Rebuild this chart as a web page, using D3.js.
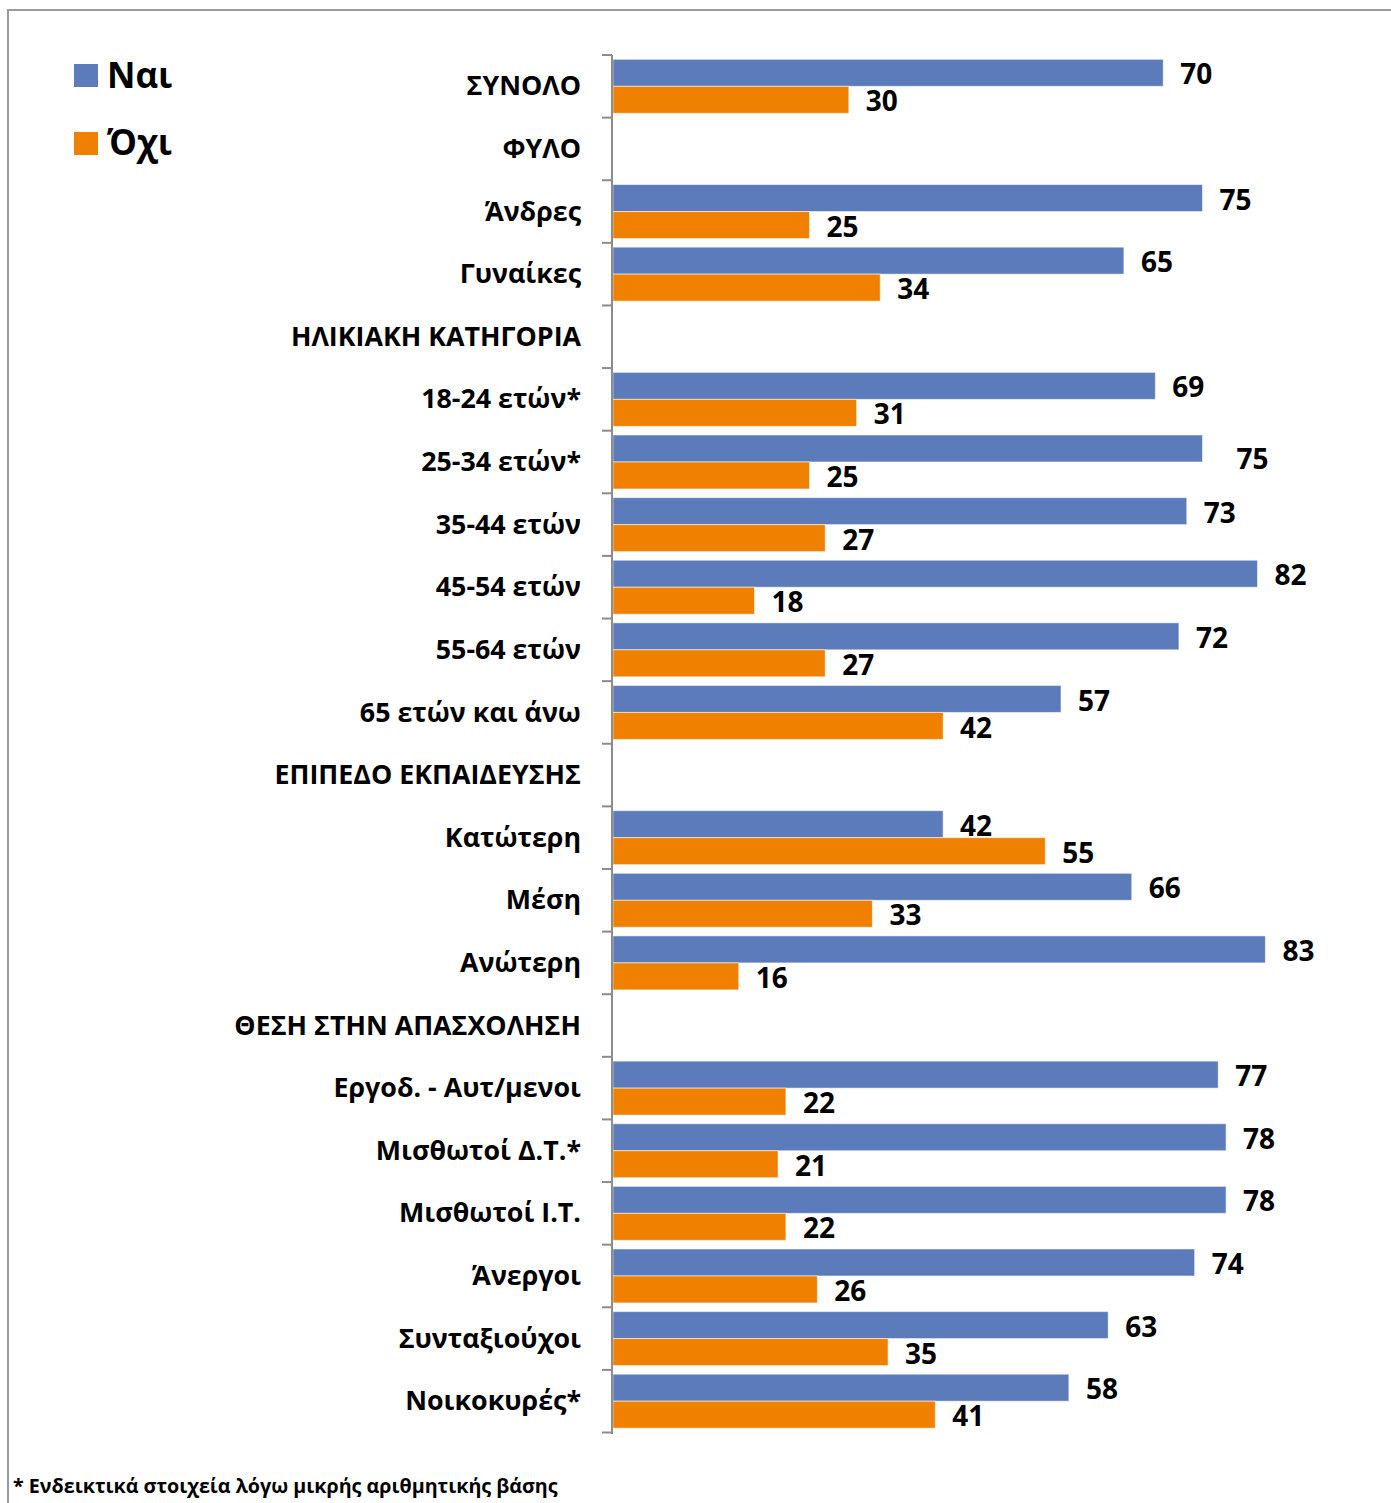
<!DOCTYPE html>
<html>
<head>
<meta charset="utf-8">
<script src="https://cdn.jsdelivr.net/npm/d3@7"></script>
<style>
  html, body { margin: 0; padding: 0; background: #fff; }
  svg { display: block; font-family: "Open Sans", "Noto Sans", sans-serif; }
</style>
</head>
<body>
<svg id="chart" width="1391" height="1503"></svg>
<script>
const categories = [
  "ΣΥΝΟΛΟ", "ΦΥΛΟ", "Άνδρες", "Γυναίκες", "ΗΛΙΚΙΑΚΗ ΚΑΤΗΓΟΡΙΑ",
  "18-24 ετών*", "25-34 ετών*", "35-44 ετών", "45-54 ετών", "55-64 ετών",
  "65 ετών και άνω", "ΕΠΙΠΕΔΟ ΕΚΠΑΙΔΕΥΣΗΣ", "Κατώτερη", "Μέση", "Ανώτερη",
  "ΘΕΣΗ ΣΤΗΝ ΑΠΑΣΧΟΛΗΣΗ", "Εργοδ. - Αυτ/μενοι", "Μισθωτοί Δ.Τ.*", "Μισθωτοί Ι.Τ.",
  "Άνεργοι", "Συνταξιούχοι", "Νοικοκυρές*"
];
const seriesNames = ["Ναι", "Όχι"];
const valuesNai = [70, null, 75, 65, null, 69, 75, 73, 82, 72, 57, null, 42, 66, 83, null, 77, 78, 78, 74, 63, 58];
const valuesOxi = [30, null, 25, 34, null, 31, 25, 27, 18, 27, 42, null, 55, 33, 16, null, 22, 21, 22, 26, 35, 41];
const seriesColors = ["#5B7BBA", "#F08000"];
const footnote = "* Ενδεικτικά στοιχεία λόγω μικρής αριθμητικής βάσης";

const svg = d3.select("#chart");

// outer frame
svg.append("path")
  .attr("d", "M8,1503 V10 H1391")
  .attr("fill", "none").attr("stroke", "#9a9a9a").attr("stroke-width", 2);

const x = d3.scaleLinear().domain([0, 100]).range([613, 1399]);
const y = d3.scaleBand().domain(categories).range([55, 1432.5]).paddingInner(0).paddingOuter(0);
const ys = d3.scaleBand().domain(seriesNames).range([0, y.bandwidth()]).paddingInner(0).paddingOuter(0.16);

const rows = categories.map((c, i) => ({ cat: c, vals: [valuesNai[i], valuesOxi[i]] }));

// bars
const g = svg.append("g");
rows.forEach(r => {
  seriesNames.forEach((s, si) => {
    const v = r.vals[si];
    if (v == null) return;
    g.append("rect")
      .attr("x", x(0))
      .attr("y", y(r.cat) + ys(s))
      .attr("width", x(v) - x(0))
      .attr("height", ys.bandwidth())
      .attr("fill", seriesColors[si])
      .attr("stroke", "#ffffff").attr("stroke-opacity", 0.55).attr("stroke-width", 1);
    let dx = 17, dy = 1.5;
    if (r.cat === "25-34 ετών*" && si === 0) { dx += 17; dy += 9; }
    g.append("text")
      .attr("x", x(v) + dx)
      .attr("y", y(r.cat) + ys(s) + ys.bandwidth() / 2 + dy)
      .attr("dy", "0.36em")
      .attr("font-size", 28).attr("font-weight", 700).attr("fill", "#000")
      .text(v);
  });
});

// axis
const axis = d3.axisLeft(y).tickSize(0).tickFormat("");
const ag = svg.append("g").attr("transform", "translate(612,0)").call(axis);
ag.select(".domain").attr("stroke", "#8c8c8c").attr("stroke-width", 2)
  .attr("d", `M0,${y.range()[0]}V${y.range()[1] + 1.5}`);
ag.selectAll(".tick").remove();
// tick marks at band boundaries
const bounds = categories.map(c => y(c)).concat([y.range()[1]]);
ag.selectAll("line.bt").data(bounds).enter().append("line")
  .attr("class", "bt")
  .attr("x1", -10).attr("x2", 0)
  .attr("y1", d => d).attr("y2", d => d)
  .attr("stroke", "#8c8c8c").attr("stroke-width", 2);

// category labels
svg.append("g").selectAll("text").data(categories).enter().append("text")
  .attr("x", 581)
  .attr("y", d => y(d) + y.bandwidth() / 2)
  .attr("dy", "0.34em")
  .attr("text-anchor", "end")
  .attr("font-size", 26.8).attr("font-weight", 700).attr("fill", "#000")
  .text(d => d);

// legend
const lg = svg.append("g");
seriesNames.forEach((s, i) => {
  lg.append("rect").attr("x", 74).attr("y", 64 + i * 68).attr("width", 24).attr("height", 23)
    .attr("fill", seriesColors[i]);
  lg.append("text").attr("x", 107).attr("y", 88 + i * 67)
    .attr("font-size", 35).attr("font-weight", 700).attr("fill", "#000").text(s);
});

// footnote
svg.append("text").attr("x", 13).attr("y", 1493)
  .attr("font-size", 19.7).attr("font-weight", 700).attr("fill", "#000")
  .text(footnote);
</script>
</body>
</html>
